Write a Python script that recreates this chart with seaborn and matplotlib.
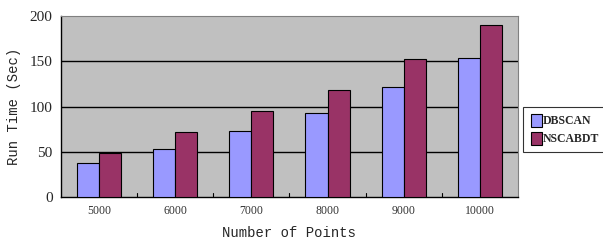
import pandas as pd
import matplotlib
matplotlib.use("Agg")
import matplotlib.pyplot as plt
import seaborn as sns

points = ["5000", "6000", "7000", "8000", "9000", "10000"]
dbscan = [37, 53, 73, 93, 122, 154]
nscabdt = [49, 72, 95, 118, 152, 190]
methods = ["DBSCAN", "NSCABDT"]
yticks = [0, 50, 100, 150, 200]

df = pd.DataFrame({
    "points": points * 2,
    "time": dbscan + nscabdt,
    "method": [methods[0]] * len(points) + [methods[1]] * len(points),
})

sns.set_style("white")
plt.rcParams["font.family"] = ["Liberation Serif", "DejaVu Serif"]

fig = plt.figure(figsize=(6.03, 2.44), dpi=100)
ax = fig.add_axes([0.101, 0.193, 0.758, 0.741])
ax.set_facecolor("#C0C0C0")

sns.barplot(data=df, x="points", y="time", hue="method", order=points,
            palette=["#9999FF", "#993366"], saturation=1, width=0.58, gap=0,
            edgecolor="black", linewidth=0.8, ax=ax, zorder=3)

ax.set_ylim(0, 200)
ax.set_xlim(-0.5, len(points) - 0.5)
ax.set_yticks(yticks)
ax.set_yticklabels([str(v) for v in yticks], fontsize=11)
ax.tick_params(axis="y", length=0, pad=6)
ax.tick_params(axis="x", length=0, labelsize=8.5, labelcolor="#333333", pad=6)
for v in yticks[1:-1]:
    ax.axhline(v, color="black", linewidth=1.0, zorder=2)
# small inward ticks between categories
for i in range(1, len(points)):
    ax.plot([i - 0.5, i - 0.5], [0, 4], color="black", linewidth=0.8, zorder=2)

for side in ["left", "bottom"]:
    ax.spines[side].set_color("black")
    ax.spines[side].set_linewidth(1.0)
for side in ["top", "right"]:
    ax.spines[side].set_color("#808080")
    ax.spines[side].set_linewidth(0.8)

mono = ["Liberation Mono", "DejaVu Sans Mono"]
ax.set_xlabel("Number of Points", fontsize=10, family=mono)
ax.set_ylabel("Run Time (Sec)", fontsize=10, family=mono)
ax.xaxis.label.set_va("center")
ax.xaxis.set_label_coords(0.5, -0.2)
ax.yaxis.label.set_va("center")
ax.yaxis.set_label_coords(-0.103, 0.5)

leg = ax.legend(loc="center left", bbox_to_anchor=(1.012, 0.373), frameon=True,
                fancybox=False, edgecolor="black",
                prop={"size": 8.5, "weight": "bold"},
                handlelength=1.0, handleheight=1.3, handletextpad=0.05,
                borderpad=0.6, labelspacing=0.4, borderaxespad=0)
leg.get_frame().set_linewidth(0.8)

fig.savefig("out.png", dpi=100)
